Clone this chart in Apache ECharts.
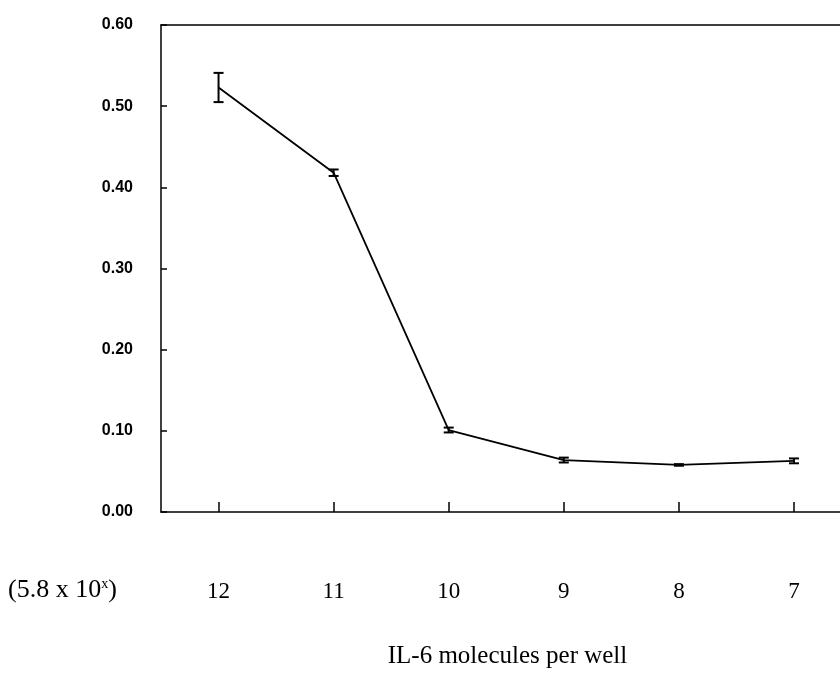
<!DOCTYPE html>
<html>
<head>
<meta charset="utf-8">
<script src="https://cdn.jsdelivr.net/npm/echarts@6/dist/echarts.min.js"></script>
<style>
  html, body { margin: 0; padding: 0; background: #fff; }
  #chart { width: 840px; height: 692px; }
</style>
</head>
<body>
<div id="chart"></div>
<script>
// data
var doseLabels = ['12', '11', '10', '9', '8', '7'];
var absorbance = [0.523, 0.418, 0.101, 0.064, 0.058, 0.063];
var errors = [0.018, 0.004, 0.003, 0.003, 0.001, 0.003];

var lineData = absorbance.map(function (v, i) { return [i, v]; });
var errData = absorbance.map(function (v, i) { return [i, v - errors[i], v + errors[i]]; });

var chart = echarts.init(document.getElementById('chart'));
chart.setOption({
  animation: false,
  grid: { left: 161, right: 0, top: 25, bottom: 180 },
  xAxis: [{
    type: 'value',
    min: -0.5,
    max: 5.4,
    splitLine: { show: false },
    axisLine: { onZero: false, lineStyle: { color: '#000', width: 1.5 } },
    axisTick: {
      inside: true, length: 10, customValues: [0, 1, 2, 3, 4, 5],
      lineStyle: { color: '#000', width: 1.5 }
    },
    axisLabel: {
      customValues: [0, 1, 2, 3, 4, 5],
      margin: 68,
      color: '#000',
      fontFamily: 'Liberation Serif',
      fontSize: 23,
      formatter: function (v) { return doseLabels[Math.round(v)]; }
    },
    name: 'IL-6 molecules per well',
    nameLocation: 'middle',
    nameGap: 132,
    nameTextStyle: { color: '#000', fontFamily: 'Liberation Serif', fontSize: 25, padding: [0, 0, 0, 14] }
  }, {
    type: 'value',
    position: 'top',
    min: -0.5,
    max: 5.4,
    splitLine: { show: false },
    axisLine: { onZero: false, lineStyle: { color: '#000', width: 1.5 } },
    axisTick: { show: false },
    axisLabel: { show: false }
  }],
  yAxis: {
    type: 'value',
    min: 0,
    max: 0.6,
    interval: 0.1,
    splitLine: { show: false },
    axisLine: { show: true, onZero: false, lineStyle: { color: '#000', width: 1.5 } },
    axisTick: { show: true, inside: true, length: 6, lineStyle: { color: '#000', width: 1.5 } },
    axisLabel: {
      margin: 28,
      color: '#000',
      fontFamily: 'Liberation Sans',
      fontWeight: 'bold',
      fontSize: 16,
      formatter: function (v) { return v.toFixed(2); }
    }
  },
  graphic: [{
    type: 'text',
    left: 8,
    top: 577,
    style: {
      text: '(5.8 x 10{sup|x})',
      rich: { sup: { fontSize: 14, verticalAlign: 'top', padding: [0, 0, 12, 0], fontFamily: 'Liberation Serif', fill: '#000' } },
      font: '26px "Liberation Serif"',
      fill: '#000'
    }
  }],
  series: [{
    type: 'line',
    data: lineData,
    symbol: 'none',
    lineStyle: { color: '#000', width: 1.8 }
  }, {
    type: 'custom',
    data: errData,
    renderItem: function (params, api) {
      var x = api.value(0);
      var lo = api.coord([x, api.value(1)]);
      var hi = api.coord([x, api.value(2)]);
      var w = 5;
      var st = { stroke: '#000', lineWidth: 2 };
      return {
        type: 'group',
        children: [
          { type: 'line', shape: { x1: lo[0], y1: lo[1], x2: hi[0], y2: hi[1] }, style: st },
          { type: 'line', shape: { x1: lo[0] - w, y1: lo[1], x2: lo[0] + w, y2: lo[1] }, style: st },
          { type: 'line', shape: { x1: hi[0] - w, y1: hi[1], x2: hi[0] + w, y2: hi[1] }, style: st }
        ]
      };
    }
  }]
});
</script>
</body>
</html>
